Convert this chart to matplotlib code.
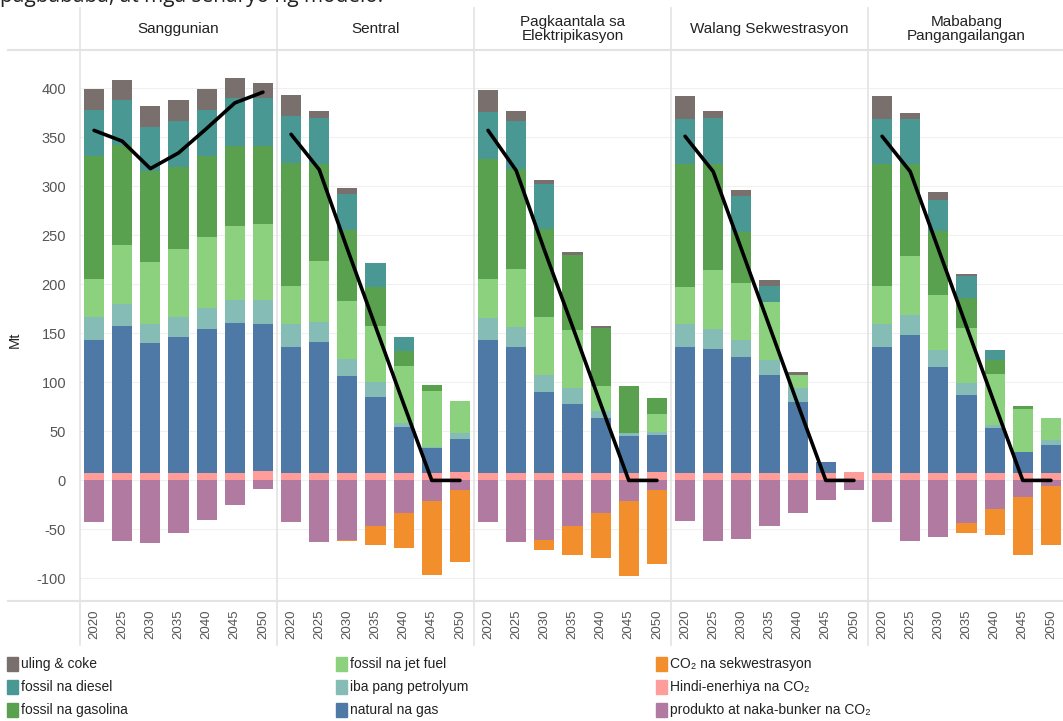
import matplotlib

matplotlib.use("Agg")
import matplotlib.pyplot as plt
from matplotlib.patches import Rectangle
import numpy as np

plt.rcParams["font.family"] = ["Liberation Sans", "DejaVu Sans"]
plt.rcParams["axes.unicode_minus"] = False

years = ["2020", "2025", "2030", "2035", "2040", "2045", "2050"]
scenarios = [
  "Sanggunian",
  "Sentral",
  "Pagkaantala sa\nElektripikasyon",
  "Walang Sekwestrasyon",
  "Mababang\nPangangailangan",
]

# Mt per scenario (rows) and year (columns)
non_energy = [
  [8, 8, 8, 8, 8, 8, 10],
  [8, 8, 8, 8, 8, 8, 9],
  [8, 8, 8, 8, 8, 8, 9],
  [8, 8, 8, 8, 8, 8, 9],
  [8, 8, 8, 8, 8, 8, 8],
]
natural_gas = [
  [135, 149, 132, 138, 146, 153, 150],
  [128, 133, 99, 77, 46, 25, 33],
  [135, 128, 82, 70, 56, 37, 37],
  [128, 126, 118, 100, 72, 11, 0],
  [128, 140, 108, 79, 45, 21, 28],
]
other_petroleum = [
  [24, 23, 20, 21, 22, 23, 24],
  [24, 21, 17, 15, 5, 1, 6],
  [23, 20, 18, 16, 7, 3, 3],
  [24, 20, 17, 15, 14, 0, 0],
  [24, 21, 17, 12, 4, 0, 5],
]
jet_fuel = [
  [38, 60, 63, 69, 72, 75, 78],
  [38, 62, 59, 58, 58, 57, 33],
  [39, 60, 59, 59, 25, 0, 19],
  [37, 61, 58, 59, 14, 0, 0],
  [38, 60, 56, 56, 52, 44, 23],
]
gasoline = [
  [126, 102, 93, 84, 83, 82, 79],
  [126, 99, 72, 39, 15, 6, 0],
  [123, 102, 89, 77, 59, 48, 16],
  [126, 108, 52, 0, 0, 0, 0],
  [125, 94, 65, 31, 14, 3, 0],
]
diesel = [
  [47, 46, 44, 47, 47, 49, 49],
  [48, 47, 37, 25, 14, 0, 0],
  [48, 49, 46, 0, 0, 0, 0],
  [46, 47, 37, 16, 0, 0, 0],
  [46, 46, 32, 22, 10, 0, 0],
]
coal_coke = [
  [21, 20, 22, 21, 21, 20, 15],
  [21, 7, 6, 0, 0, 0, 0],
  [22, 10, 4, 3, 2, 0, 0],
  [23, 7, 6, 6, 3, 0, 0],
  [23, 6, 8, 3, 0, 0, 0],
]
products_bunker = [
  [-42, -62, -64, -54, -40, -25, -9],
  [-42, -63, -61, -47, -33, -21, -10],
  [-42, -63, -61, -47, -33, -21, -10],
  [-41, -62, -60, -47, -33, -20, -10],
  [-42, -62, -58, -43, -29, -17, -6],
]
sequestration = [
  [0, 0, 0, 0, 0, 0, 0],
  [0, 0, -1, -19, -36, -75, -73],
  [0, 0, -10, -29, -46, -76, -75],
  [0, 0, 0, 0, 0, 0, 0],
  [0, 0, 0, -11, -27, -59, -60],
]
net_emissions = [
  [357, 346, 318, 334, 359, 385, 396],
  [353, 317, 236, 157, 78, 0, 0],
  [357, 316, 235, 157, 78, 0, 0],
  [351, 315, 236, 157, 78, 0, 0],
  [351, 315, 236, 157, 78, 0, 0],
]

positive_series = [
  ("Hindi-enerhiya na CO₂", non_energy, "#ff9d9a"),
  ("natural na gas", natural_gas, "#4e79a7"),
  ("iba pang petrolyum", other_petroleum, "#86bcb6"),
  ("fossil na jet fuel", jet_fuel, "#8cd17d"),
  ("fossil na gasolina", gasoline, "#59a14f"),
  ("fossil na diesel", diesel, "#499894"),
  ("uling & coke", coal_coke, "#79706e"),
]
negative_series = [
  ("produkto at naka-bunker na CO₂", products_bunker, "#b07aa1"),
  ("CO₂ na sekwestrasyon", sequestration, "#f28e2b"),
]

W, H = 1063, 721
fig = plt.figure(figsize=(W / 100, H / 100), dpi=100)

plot_left = 80
panel_w = 197
top_px, bottom_px = 50, 601
grid_c = "#e3e3e3"
text_c = "#555555"

x = np.arange(len(years))
for i, name in enumerate(scenarios):
  ax = fig.add_axes([
    (plot_left + i * panel_w) / W,
    1 - bottom_px / H,
    panel_w / W,
    (bottom_px - top_px) / H,
  ])
  pos_base = np.zeros(len(years))
  for _, data, color in positive_series:
    vals = np.array(data[i], dtype=float)
    ax.bar(x, vals, 0.72, bottom=pos_base, color=color, linewidth=0, zorder=2)
    pos_base += vals
  neg_base = np.zeros(len(years))
  for _, data, color in negative_series:
    vals = np.array(data[i], dtype=float)
    ax.bar(x, vals, 0.72, bottom=neg_base, color=color, linewidth=0, zorder=2)
    neg_base += vals
  ax.plot(x, net_emissions[i], color="black", lw=2.6, zorder=3,
          solid_joinstyle="round", solid_capstyle="round")

  ax.set_xlim(-0.5, len(years) - 0.5)
  ax.set_ylim(-123, 439)
  ax.set_yticks(np.arange(-100, 401, 50))
  ax.grid(axis="y", color="#f0f0f0", lw=0.8, zorder=0)
  ax.set_xticks(x)
  ax.set_xticklabels(years, rotation=90, fontsize=9.5, color=text_c)
  ax.tick_params(length=0, pad=6)
  if i == 0:
    ax.tick_params(axis="y", labelsize=10.5, labelcolor=text_c, pad=10)
  else:
    ax.tick_params(axis="y", labelleft=False)
  for side in ax.spines.values():
    side.set_visible(False)

  fig.text((plot_left + (i + 0.5) * panel_w) / W, 1 - 29 / H, name,
           ha="center", va="center", fontsize=11, color="#222222",
           linespacing=1.0)

# panel dividers and header / footer rules
for i in range(len(scenarios)):
  xf = (plot_left + i * panel_w) / W
  fig.add_artist(plt.Line2D([xf, xf], [1 - 8 / H, 1 - 645 / H],
                            color=grid_c, lw=1.2))
for yp in (top_px, bottom_px):
  fig.add_artist(plt.Line2D([8 / W, 1], [1 - yp / H, 1 - yp / H],
                            color=grid_c, lw=1.5))

fig.text(15 / W, 1 - 340 / H, "Mt", rotation=90, ha="center", va="center",
         fontsize=10.5, color="#222222")

# partially cut caption line above the chart
fig.text(0, 1 - 2 / H, "pagbababa, at mga senaryo ng modelo.",
         ha="left", va="baseline", fontsize=15, color="#222222",
         family=["Open Sans", "DejaVu Sans"])

legend_cols = [
  ["uling & coke", "fossil na diesel", "fossil na gasolina"],
  ["fossil na jet fuel", "iba pang petrolyum", "natural na gas"],
  ["CO₂ na sekwestrasyon", "Hindi-enerhiya na CO₂", "produkto at naka-bunker na CO₂"],
]
colors = {n: c for n, _, c in positive_series + negative_series}
col_x = [7, 336, 656]
row_y = [664, 687, 710]
for cx, labels in zip(col_x, legend_cols):
  for ry, label in zip(row_y, labels):
    fig.add_artist(Rectangle((cx / W, 1 - (ry + 7) / H), 11 / W, 14 / H,
                             color=colors[label], transform=fig.transFigure))
    fig.text((cx + 14) / W, 1 - ry / H, label, ha="left", va="center",
             fontsize=10, color="#222222")

fig.savefig("out.png", dpi=100)
